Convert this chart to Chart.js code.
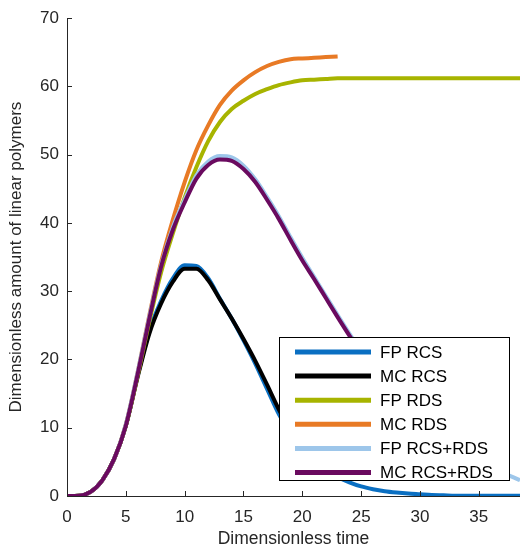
<!DOCTYPE html>
<html>
<head>
<meta charset="utf-8">
<script src="https://cdn.jsdelivr.net/npm/chart.js@4.4.1/dist/chart.umd.min.js"></script>
<style>
  html, body { margin: 0; padding: 0; background: #fff; }
  #wrap { position: relative; width: 520px; height: 554px; }
</style>
</head>
<body>
<div id="wrap"><canvas id="myChart" width="520" height="554"></canvas></div>
<script>
// time points (dimensionless)
const times = [0, 1, 2, 3, 4, 5, 6, 7, 8, 9, 10, 11, 12, 13, 14, 15, 16, 17, 18, 19,
  20, 21, 22, 23, 24, 25, 26, 27, 28, 29, 30, 31, 32, 33, 34, 35, 36, 37, 38, 38.5];

const fpRcs = [0, 0.05, 0.6, 2.3, 5.4, 10.3, 17.6, 24.2, 28.6, 31.9, 33.8, 33.7, 31.9, 28.9, 26.0, 22.8, 19.4, 15.7, 12.0, 9.2,
  7.0, 5.3, 3.9, 2.8, 2.0, 1.4, 1.0, 0.7, 0.5, 0.35, 0.25, 0.15, 0.1, 0.05, 0.05, 0.05, 0.05, 0.05, 0.05, 0.05];
const mcRcs = [0, 0.05, 0.6, 2.3, 5.4, 10.3, 17.4, 23.8, 28.2, 31.4, 33.3, 33.3, 31.6, 28.8, 26.0, 23.0, 19.8, 16.3, 12.7, 9.6,
  7.3, 5.5, 4.0, 3.0, null, null, null, null, null, null, null, null, null, null, null, null, null, null, null, null];
const fpRds = [0, 0.05, 0.6, 2.3, 5.4, 10.3, 17.6, 25.6, 32.8, 38.5, 43.7, 48.2, 52.0, 54.8, 56.7, 57.9, 58.9, 59.6, 60.2, 60.6,
  60.9, 61.0, 61.1, 61.2, 61.2, 61.2, 61.2, 61.2, 61.2, 61.2, 61.2, 61.2, 61.2, 61.2, 61.2, 61.2, 61.2, 61.2, 61.2, 61.2];
const mcRds = [0, 0.05, 0.6, 2.3, 5.4, 10.5, 18.1, 26.5, 34.3, 40.5, 46.0, 50.7, 54.3, 57.3, 59.4, 60.9, 62.1, 63.0, 63.6, 64.0,
  64.1, 64.2, 64.3, 64.4, null, null, null, null, null, null, null, null, null, null, null, null, null, null, null, null];
const fpBoth = [0, 0.05, 0.6, 2.3, 5.4, 10.5, 18.1, 26.3, 33.8, 39.4, 43.4, 47.0, 49.0, 49.8, 49.6, 48.4, 46.4, 43.8, 41.0, 37.9,
  34.9, 32.1, 29.3, 26.5, 23.8, 21.2, 18.7, 16.2, 13.9, 11.9, 10.2, 8.8, 7.6, 6.5, 5.5, 4.7, 4.0, 3.4, 2.7, 2.3];
const mcBoth = [0, 0.05, 0.6, 2.3, 5.4, 10.3, 17.8, 26.0, 33.6, 39.0, 43.0, 46.5, 48.5, 49.3, 49.1, 47.9, 46.0, 43.4, 40.6, 37.5,
  34.5, 31.8, 29.0, 26.2, 23.5, 21.0, 18.5, 16.0, 13.7, 11.8, 10.2, null, null, null, null, null, null, null, null, null];

const labels = ["FP RCS", "MC RCS", "FP RDS", "MC RDS", "FP RCS+RDS", "MC RCS+RDS"];
const colors = ["#0a6fc2", "#000000", "#a7b400", "#e87a25", "#9dc6ea", "#6a0a5f"];
const series = [fpRcs, mcRcs, fpRds, mcRds, fpBoth, mcBoth];
const drawOrder = [5, 4, 3, 2, 1, 0];

const xTicks = [0, 5, 10, 15, 20, 25, 30, 35];
const yTicks = [0, 10, 20, 30, 40, 50, 60, 70];

const FONT = "'Liberation Sans', Arial, Helvetica, sans-serif";

function toPoints(vals) {
  return times.map((t, i) => ({ x: t, y: vals[i] }));
}

// draws the small inward tick marks
const insideTicks = {
  id: "insideTicks",
  afterDatasetsDraw(chart) {
    const { ctx, chartArea, scales } = chart;
    ctx.save();
    ctx.strokeStyle = "#262626";
    ctx.lineWidth = 1;
    ctx.beginPath();
    scales.x.ticks.forEach((t) => {
      const px = Math.round(scales.x.getPixelForValue(t.value)) + 0.5;
      ctx.moveTo(px, chartArea.bottom);
      ctx.lineTo(px, chartArea.bottom - 5);
    });
    scales.y.ticks.forEach((t) => {
      const py = Math.round(scales.y.getPixelForValue(t.value)) + 0.5;
      ctx.moveTo(chartArea.left, py);
      ctx.lineTo(chartArea.left + 5, py);
    });
    ctx.stroke();
    ctx.restore();
  },
};

// legend box drawn inside the plot, bottom right
const boxLegend = {
  id: "boxLegend",
  afterDraw(chart) {
    const { ctx, chartArea } = chart;
    const w = 230;
    const h = 143;
    const x0 = Math.round(chartArea.right - 11 - w);
    const y0 = Math.round(chartArea.bottom - 16 - h);
    ctx.save();
    ctx.fillStyle = "#ffffff";
    ctx.fillRect(x0, y0, w, h);
    ctx.strokeStyle = "#000000";
    ctx.lineWidth = 1;
    ctx.strokeRect(x0 + 0.5, y0 + 0.5, w, h);
    ctx.font = "17px " + FONT;
    ctx.textBaseline = "middle";
    chart.data.datasets.forEach((ds, i) => {
      const y = y0 + 15 + i * 24.1;
      ctx.strokeStyle = ds.borderColor;
      ctx.lineWidth = 5;
      ctx.beginPath();
      ctx.moveTo(x0 + 16, y);
      ctx.lineTo(x0 + 92, y);
      ctx.stroke();
      ctx.fillStyle = "#000000";
      ctx.fillText(ds.label, x0 + 101, y + 1);
    });
    ctx.restore();
  },
};

new Chart(document.getElementById("myChart"), {
  type: "line",
  data: {
    datasets: series.map((vals, i) => ({
      label: labels[i],
      data: toPoints(vals),
      borderColor: colors[i],
      backgroundColor: colors[i],
      borderWidth: 4,
      pointRadius: 0,
      cubicInterpolationMode: "monotone",
      spanGaps: false,
      order: drawOrder[i],
    })),
  },
  options: {
    responsive: false,
    animation: false,
    layout: { padding: { top: 14, right: 0, left: 0, bottom: 0 } },
    plugins: {
      legend: { display: false },
      tooltip: { enabled: false },
    },
    scales: {
      x: {
        type: "linear",
        min: 0,
        max: 38.5,
        afterBuildTicks: (scale) => {
          scale.ticks = xTicks.map((v) => ({ value: v }));
        },
        afterFit: (scale) => {
          scale.height = 58;
        },
        grid: { display: false, drawTicks: false },
        border: { display: true, color: "#262626", width: 1 },
        ticks: {
          padding: 11,
          color: "#262626",
          font: { family: FONT, size: 17 },
          maxRotation: 0,
        },
        title: {
          display: true,
          text: "Dimensionless time",
          color: "#262626",
          font: { family: FONT, size: 17.5 },
          padding: { top: 0, bottom: 4 },
        },
      },
      y: {
        type: "linear",
        min: 0,
        max: 70,
        afterBuildTicks: (scale) => {
          scale.ticks = yTicks.map((v) => ({ value: v }));
        },
        afterFit: (scale) => {
          scale.width = 67;
        },
        grid: { display: false, drawTicks: false },
        border: { display: true, color: "#262626", width: 1 },
        ticks: {
          padding: 8,
          color: "#262626",
          font: { family: FONT, size: 17 },
        },
        title: {
          display: true,
          text: "Dimensionless amount of linear polymers",
          color: "#262626",
          font: { family: FONT, size: 17 },
          padding: { top: 6, bottom: 0 },
        },
      },
    },
  },
  plugins: [insideTicks, boxLegend],
});
</script>
</body>
</html>
